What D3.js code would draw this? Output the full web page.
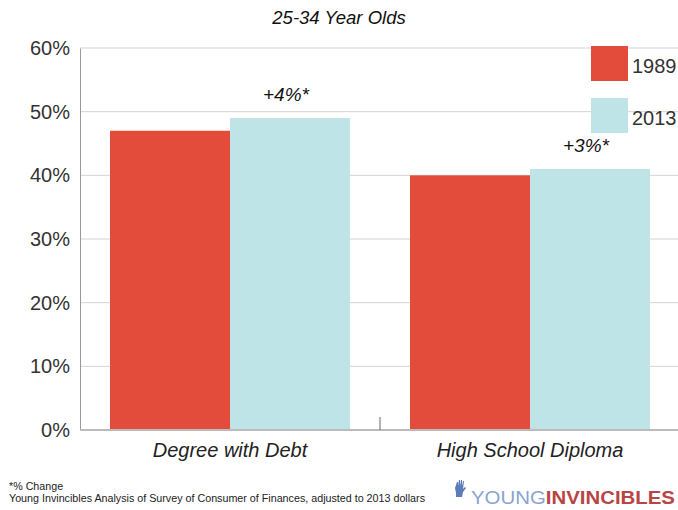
<!DOCTYPE html>
<html><head><meta charset="utf-8">
<script src="https://cdn.jsdelivr.net/npm/d3@7"></script>
<style>body{margin:0;background:#fff}svg{display:block}</style>
</head><body>
<script>
const categories = ["Degree with Debt", "High School Diploma"];
const seriesNames = ["1989", "2013"];
const values1989 = [47, 40];
const values2013 = [49, 41];
const changeLabels = ["+4%*", "+3%*"];
const yTicks = [0, 10, 20, 30, 40, 50, 60];
const colors = ["#e34c3a", "#bfe4e8"];

(function () {
const W = 678, H = 510;
const svg = d3.select("body").append("svg").attr("width", W).attr("height", H);
const font = "Liberation Sans, Arial, Helvetica, sans-serif";
const pLeft = 80, pRight = 680, pTop = 48, pBottom = 430;

const x = d3.scaleBand().domain(categories).range([pLeft, pRight]).paddingInner(0).paddingOuter(0);
const y = d3.scaleLinear().domain([0, 60]).range([pBottom, pTop]);
const xs = d3.scaleBand().domain(seriesNames).range([0, x.bandwidth()]).paddingOuter(0.25).paddingInner(0);

// gridlines
svg.append("g").selectAll("line").data(yTicks.filter(d => d > 0)).join("line")
  .attr("x1", pLeft).attr("x2", W).attr("y1", d => y(d)).attr("y2", d => y(d))
  .attr("stroke", "#d4d4d4").attr("stroke-width", 1);

// y axis
const yAxis = svg.append("g").attr("transform", `translate(${pLeft},0)`)
  .call(d3.axisLeft(y).tickValues(yTicks).tickFormat(d => d + "%").tickSize(0).tickPadding(10));
yAxis.select(".domain").attr("stroke", "#999").attr("stroke-width", 1);
yAxis.selectAll("text").attr("font-family", font).attr("font-size", 20).attr("fill", "#333");

// bars
const data = [];
categories.forEach((c, i) => {
  data.push({cat: c, s: seriesNames[0], v: values1989[i], col: colors[0]});
  data.push({cat: c, s: seriesNames[1], v: values2013[i], col: colors[1]});
});
svg.append("g").selectAll("rect").data(data).join("rect")
  .attr("x", d => x(d.cat) + xs(d.s))
  .attr("width", xs.bandwidth())
  .attr("y", d => y(d.v))
  .attr("height", d => y(0) - y(d.v))
  .attr("fill", d => d.col);

// x axis
const xAxis = svg.append("g").attr("transform", `translate(0,${pBottom})`)
  .call(d3.axisBottom(x).tickSize(0).tickPadding(13));
xAxis.select(".domain").attr("stroke", "#bbb").attr("stroke-width", 2).attr("d", `M${pLeft},0H${W}`);
xAxis.selectAll("text").attr("font-family", font).attr("font-size", 20).attr("font-style", "italic").attr("fill", "#222");
// category divider tick
svg.append("line").attr("x1", x(categories[1])).attr("x2", x(categories[1]))
  .attr("y1", pBottom - 13).attr("y2", pBottom).attr("stroke", "#666").attr("stroke-width", 1);

// change annotations
svg.append("g").selectAll("text").data(categories).join("text")
  .attr("x", (c, i) => x(c) + xs(seriesNames[1]) + xs.bandwidth() / 2 - 4)
  .attr("y", (c, i) => y(values2013[i]) - 17)
  .attr("text-anchor", "middle")
  .attr("font-family", font).attr("font-size", 19).attr("font-style", "italic").attr("fill", "#111")
  .text((c, i) => changeLabels[i]);

// title
svg.append("text").attr("x", 339).attr("y", 24).attr("text-anchor", "middle")
  .attr("font-family", font).attr("font-size", 18.5).attr("font-style", "italic").attr("fill", "#111")
  .text("25-34 Year Olds");

// legend
const lg = svg.append("g");
seriesNames.forEach((s, i) => {
  lg.append("rect").attr("x", 591).attr("y", 46 + i * 52).attr("width", 37).attr("height", 35).attr("fill", colors[i]);
  lg.append("text").attr("x", 632).attr("y", 73 + i * 52).attr("font-family", font).attr("font-size", 20).attr("fill", "#333").text(s);
});

// footer
const ff = "Liberation Sans Narrow, Arial Narrow, Liberation Sans, sans-serif";
svg.append("text").attr("x", 9).attr("y", 490).attr("font-family", ff).attr("font-size", 10.7).attr("fill", "#222").text("*% Change");
svg.append("text").attr("x", 9).attr("y", 502).attr("font-family", ff).attr("font-size", 10.7).attr("fill", "#222")
  .attr("textLength", 416).attr("lengthAdjust", "spacingAndGlyphs")
  .text("Young Invincibles Analysis of Survey of Consumer of Finances, adjusted to 2013 dollars");

// logo
const logo = svg.append("g");
logo.append("path").attr("d", "M455,488 l2,-6 l1,0 l0,4 l1,-6 l1,0 l0,6 l1,-6 l1,0 l0,6 l1,-5 l1,0 l-1,8 l2,-2 l1,1 l-3,4 l-1,5 l-6,0 l0,-4 z")
  .attr("fill", "#5a7cb8");
logo.append("text").attr("x", 471).attr("y", 504).attr("font-family", "Liberation Sans, sans-serif").attr("font-size", 19)
  .attr("textLength", 204).attr("lengthAdjust", "spacingAndGlyphs")
  .call(t => {
    t.append("tspan").attr("fill", "#8aa3cf").attr("font-weight", 300).text("YOUNG");
    t.append("tspan").attr("fill", "#b84545").attr("font-weight", "bold").text("INVINCIBLES");
  });
})();
</script>
</body></html>
